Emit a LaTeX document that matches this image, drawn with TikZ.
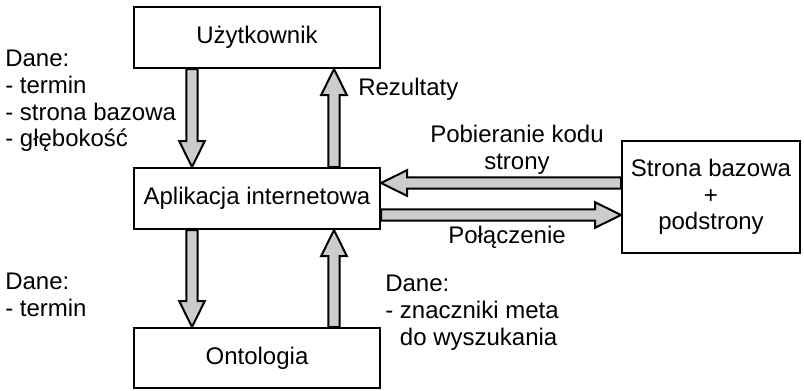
\documentclass[tikz,border=0pt]{standalone}
\usepackage{fontspec}
\setmainfont{Liberation Sans}
\usetikzlibrary{calc}
\newcommand\fatarrow[2]{%
  \coordinate (fa-c) at ($(#2)!19.5pt!(#1)$);
  \draw[fatarrowstyle]
    ($(#1)!4.2pt!90:(#2)$) -- ($(fa-c)!4.2pt!90:(#2)$) -- ($(fa-c)!9.6pt!90:(#2)$)
    -- (#2) -- ($(fa-c)!9.6pt!-90:(#2)$) -- ($(fa-c)!4.2pt!-90:(#2)$)
    -- ($(#1)!4.2pt!-90:(#2)$) -- cycle;}
\begin{document}
\begin{tikzpicture}[x=0.75pt,y=-0.75pt,
  every node/.style={font=\fontsize{18}{20}\selectfont, text=black},
  box/.style={draw, line width=1.5pt, fill=white, inner sep=0pt, align=center},
  lbl/.style={inner sep=0pt, align=left},
  fatarrowstyle/.style={draw, line width=1.5pt, fill=gray!40, line join=miter}]
\useasboundingbox (0,0) rectangle (804,390);
% boxes
\node[box, minimum width=184.5pt, minimum height=45.75pt] (u) at (257,37.5) {Użytkownik};
\node[box, minimum width=184.5pt, minimum height=45.75pt] (a) at (257,198.5) {Aplikacja internetowa};
\node[box, minimum width=184.5pt, minimum height=45pt] (o) at (257,358) {Ontologia};
\node[box, minimum width=133.5pt, minimum height=84pt] (s) at (711,197) {Strona bazowa\\+\\podstrony};
% guide coordinates
\coordinate (lx) at (192,0);
\coordinate (rx) at (334,0);
\coordinate (ty) at (0,183);
\coordinate (by) at (0,215);
% vertical arrows
\coordinate (p1) at (u.south -| lx); \coordinate (p2) at (a.north -| lx);
\fatarrow{p1}{p2}
\coordinate (p3) at (a.north -| rx); \coordinate (p4) at (u.south -| rx);
\fatarrow{p3}{p4}
\coordinate (p5) at (a.south -| lx); \coordinate (p6) at (o.north -| lx);
\fatarrow{p5}{p6}
\coordinate (p7) at (o.north -| rx); \coordinate (p8) at (a.south -| rx);
\fatarrow{p7}{p8}
% horizontal arrows
\coordinate (h1) at (s.west |- ty); \coordinate (h2) at (a.east |- ty);
\fatarrow{h1}{h2}
\coordinate (h3) at (a.east |- by); \coordinate (h4) at (s.west |- by);
\fatarrow{h3}{h4}
% labels
\node[lbl, anchor=north west] (l1) at (5,50) {Dane:\\- termin\\- strona bazowa\\- głębokość};
\node[lbl, anchor=north west] (l2) at (5,273) {Dane:\\- termin};
\node[lbl, anchor=north west] (l3) at (385,275) {Dane:\\- znaczniki meta\\\hphantom{- }do wyszukania};
\node[lbl, anchor=base west] (l4) at (358,95) {Rezultaty};
\node[lbl, align=center, anchor=north] (l5) at (517,125) {Pobieranie kodu\\strony};
\node[lbl, anchor=base] (l6) at (507,243) {Połączenie};
\end{tikzpicture}
\end{document}
